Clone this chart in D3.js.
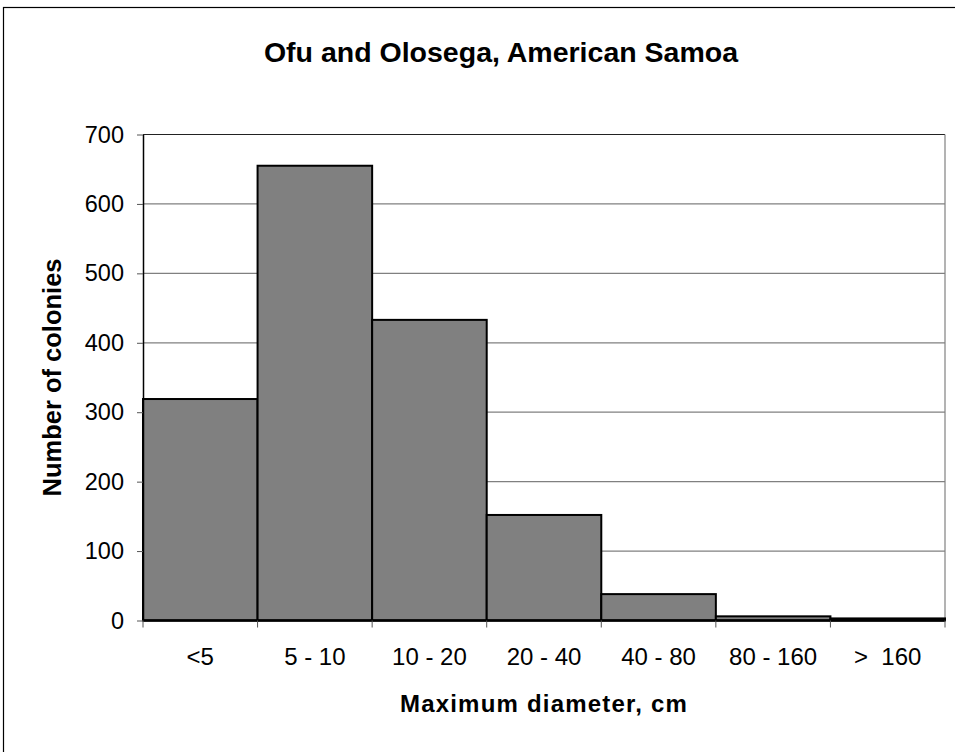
<!DOCTYPE html>
<html>
<head>
<meta charset="utf-8">
<script src="https://cdn.jsdelivr.net/npm/d3@7"></script>
<style>
  body { margin: 0; background: #fff; }
  text { font-family: "Liberation Sans", Arial, sans-serif; fill: #000; }
</style>
</head>
<body>
<svg width="955" height="752"></svg>
<script>
var categories = ["<5", "5 - 10", "10 - 20", "20 - 40", "40 - 80", "80 - 160", ">\u00a0\u00a0160"];
var colonies = [319, 655, 433, 152, 38, 6, 3];
var yTicks = [0, 100, 200, 300, 400, 500, 600, 700];

var svg = d3.select("svg");
var margin = {"top": 134.5, "right": 10, "bottom": 131.5, "left": 143};
var width = +svg.attr("width") - margin.left - margin.right;
var height = +svg.attr("height") - margin.top - margin.bottom;

// outer chart frame (right and bottom edges fall outside the picture)
svg.append("rect")
    .attr("x", 3.5).attr("y", 7.5)
    .attr("width", 1000).attr("height", 800)
    .style("fill", "none").style("stroke", "#000").style("stroke-width", 1.2);

var g = svg.append("g").attr("transform", "translate(" + margin.left + "," + margin.top + ")");

var x = d3.scaleBand().domain(categories).range([0, width]).paddingInner(0).paddingOuter(0);
var y = d3.scaleLinear().domain([0, 700]).range([height, 0]);

// gridlines
g.selectAll(".grid")
    .data(yTicks.slice(1))
    .enter().append("line")
    .attr("class", "grid")
    .attr("x1", 0).attr("x2", width)
    .attr("y1", function(d){return y(d);})
    .attr("y2", function(d){return y(d);})
    .style("stroke", function(d){return d === 700 ? "#222" : "#808080";})
    .style("stroke-width", 1.2);

// right border of plot area
g.append("line")
    .attr("x1", width).attr("x2", width)
    .attr("y1", 0).attr("y2", height)
    .style("stroke", "#808080").style("stroke-width", 1.2);

// bars
g.selectAll(".bar")
    .data(colonies)
    .enter().append("rect")
    .attr("class", "bar")
    .attr("x", function(d, i){return x(categories[i]);})
    .attr("width", x.bandwidth())
    .attr("y", function(d){return y(d);})
    .attr("height", function(d){return height - y(d);})
    .style("fill", "#808080")
    .style("stroke", "#000")
    .style("stroke-width", 2);

// y axis
var yAxis = g.append("g")
    .call(d3.axisLeft(y).tickValues(yTicks).tickSize(6).tickPadding(13).tickSizeOuter(0));
yAxis.select(".domain").style("stroke", "#000").style("stroke-width", 1.5);
yAxis.selectAll(".tick line").style("stroke", "#555");
yAxis.selectAll("text").style("font-size", "23.5px").style("font-family", "Liberation Sans, Arial, sans-serif");

// x axis
var xBoundaries = categories.map(function(c){return x(c);}).concat([width]);
var xAxis = g.append("g").attr("transform", "translate(0," + height + ")");
xAxis.append("line")
    .attr("x1", 0).attr("x2", width)
    .style("stroke", "#000").style("stroke-width", 2.5);
xAxis.selectAll(".xtick")
    .data(xBoundaries)
    .enter().append("line")
    .attr("x1", function(d){return d;}).attr("x2", function(d){return d;})
    .attr("y1", 0).attr("y2", 7)
    .style("stroke", "#555");
xAxis.selectAll(".xlabel")
    .data(categories)
    .enter().append("text")
    .attr("x", function(d){return x(d) + x.bandwidth() / 2;})
    .attr("y", 44)
    .attr("text-anchor", "middle")
    .style("font-size", "24px")
    .text(function(d){return d;});

// titles
svg.append("text")
    .attr("x", 501)
    .attr("y", 62)
    .attr("text-anchor", "middle")
    .style("font-size", "28.5px")
    .style("font-weight", "bold")
    .text("Ofu and Olosega, American Samoa");

svg.append("text")
    .attr("x", margin.left + width / 2)
    .attr("y", 712)
    .attr("text-anchor", "middle")
    .style("font-size", "24px")
    .style("font-weight", "bold")
    .style("letter-spacing", "1.2px")
    .text("Maximum diameter, cm");

svg.append("text")
    .attr("transform", "translate(61," + (margin.top + height / 2) + ") rotate(-90)")
    .attr("text-anchor", "middle")
    .style("font-size", "25.5px")
    .style("font-weight", "bold")
    .text("Number of colonies");
</script>
</body>
</html>
